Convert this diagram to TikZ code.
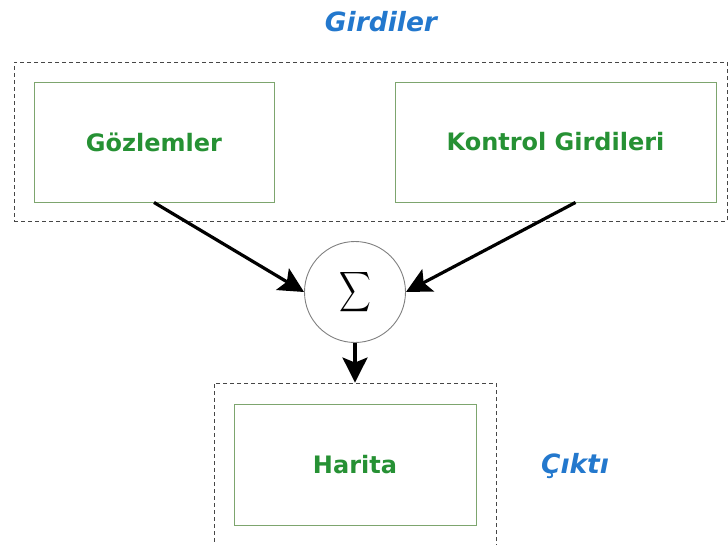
\documentclass[tikz,border=0pt]{standalone}
\usepackage{fontspec}
\setmainfont{DejaVu Sans}
\usetikzlibrary{arrows.meta,calc}
\definecolor{labgreen}{RGB}{38,145,52}
\definecolor{boxgreen}{RGB}{125,165,110}
\definecolor{titleblue}{RGB}{35,120,205}
\definecolor{dashgray}{RGB}{70,70,70}
\begin{document}
\begin{tikzpicture}[x=1pt,y=-1pt,
  group/.style={draw=dashgray,line width=0.9pt,dash pattern=on 4pt off 3pt,rectangle,inner sep=0pt},
  block/.style={draw=boxgreen,line width=0.9pt,rectangle,inner sep=0pt,font=\bfseries\fontsize{24}{28}\selectfont,text=labgreen},
  title/.style={font=\bfseries\itshape\fontsize{26.5}{30}\selectfont,text=titleblue},
  flow/.style={line width=3.2pt,-{Stealth[length=25pt,width=25pt,inset=5pt]}}]
\useasboundingbox (0,0) rectangle (728,544);
% input group
\node[group,minimum width=713pt,minimum height=159pt] (inputs) at (370.5,141.5) {};
\node[title] (intitle) at (381,22) {Girdiler};
\node[block,minimum width=240pt,minimum height=120pt] (obs) at (154,142) {Gözlemler};
\node[block,minimum width=321pt,minimum height=120pt] (ctrl) at (555.5,142) {Kontrol Girdileri};
% summing junction
\node[circle,draw=black!50,line width=0.9pt,minimum size=101pt,inner sep=0pt] (sum) at (355,292)
  {\scalebox{2.2}[2.8]{$\displaystyle\sum$}};
% output group
\node[group,minimum width=282pt,minimum height=170pt] (outputs) at (355,468) {};
\node[block,minimum width=242pt,minimum height=121pt] (map) at (355,464.5) {Harita};
\node[title] (outtitle) at (575,466) {Çıktı};
% connectors
\draw[flow] (obs.south) -- (sum.west);
\draw[flow] ([xshift=20pt]ctrl.south) -- (sum.east);
\draw[flow] (sum.south) -- (outputs.north);
\end{tikzpicture}
\end{document}
